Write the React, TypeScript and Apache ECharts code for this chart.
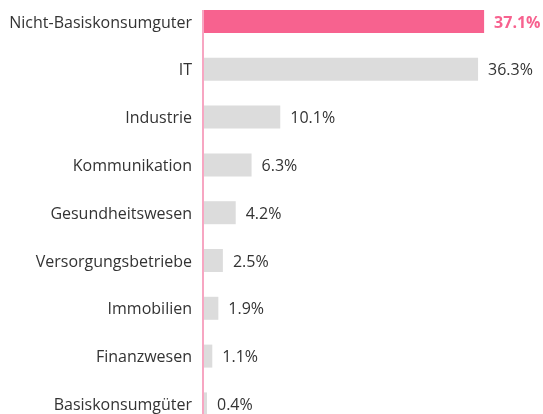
import React, { useEffect, useRef } from "react";
import * as echarts from "echarts";

const categories = [
  "Nicht-Basiskonsumguter",
  "IT",
  "Industrie",
  "Kommunikation",
  "Gesundheitswesen",
  "Versorgungsbetriebe",
  "Immobilien",
  "Finanzwesen",
  "Basiskonsumgüter",
];
const values = [37.1, 36.3, 10.1, 6.3, 4.2, 2.5, 1.9, 1.1, 0.4];
const highlightIndex = 0;

const PINK = "#f7628f";
const GRAY = "#dcdcdc";
const AXIS_PINK = "#f7a6c2";
const TEXT = "#333333";
const FONT = "Open Sans";

export default function App() {
  const ref = useRef<HTMLDivElement>(null);
  useEffect(() => {
    if (!ref.current) return;
    const chart = echarts.init(ref.current, undefined, { renderer: "svg" });
    const barWidth = 23;
    chart.setOption({
      animation: false,
      grid: {
        left: 204,
        width: 302,
        top: -2.4,
        height: 430.2,
        containLabel: false,
        outerBoundsMode: "none",
      },
      xAxis: {
        type: "value",
        min: 0,
        max: 40,
        show: false,
      },
      yAxis: {
        type: "category",
        inverse: true,
        data: categories,
        axisLine: { show: false },
        axisTick: { show: false },
        splitLine: { show: false },
        axisLabel: {
          margin: 12,
          color: TEXT,
          fontFamily: FONT,
          fontSize: 16,
        },
      },
      series: [
        {
          type: "bar",
          barWidth,
          data: values.map((v, i) => ({
            value: v,
            itemStyle: { color: i === highlightIndex ? PINK : GRAY },
            label: i === highlightIndex ? { color: PINK, fontWeight: "bold" } : undefined,
          })),
          label: {
            show: true,
            position: "right",
            distance: 10,
            color: TEXT,
            fontFamily: FONT,
            fontSize: 16,
            formatter: (p: any) => `${p.value.toFixed(1)}%`,
          },
        },
      ],
    });
    const top = chart.convertToPixel({ gridIndex: 0 }, [0, categories[0]]) as number[];
    const x0 = top[0] - 1;
    chart.setOption({
      graphic: [
        {
          type: "line",
          z: 0,
          shape: { x1: x0, y1: top[1] - barWidth / 2, x2: x0, y2: 414 },
          style: { stroke: AXIS_PINK, lineWidth: 2 },
        },
      ],
    });
    return () => chart.dispose();
  }, []);
  return (
    <div
      ref={ref}
      style={{ position: "fixed", left: 0, top: 0, width: 543, height: 414 }}
    />
  );
}
